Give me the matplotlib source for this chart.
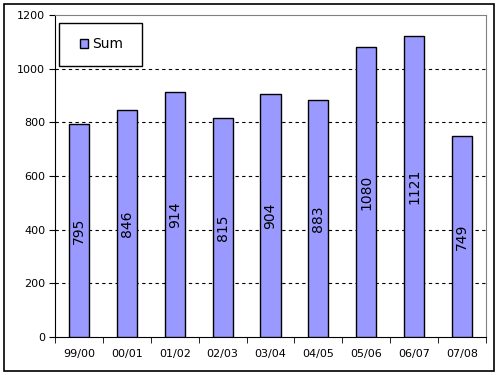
import matplotlib
matplotlib.use("Agg")
import matplotlib.pyplot as plt
from matplotlib.patches import Rectangle
import numpy as np

categories = ["99/00", "00/01", "01/02", "02/03", "03/04", "04/05", "05/06", "06/07", "07/08"]
values = [795, 846, 914, 815, 904, 883, 1080, 1121, 749]
yticks = [0, 200, 400, 600, 800, 1000, 1200]

W, H = 500, 375
fig = plt.figure(figsize=(5, 3.75), dpi=100)
fig.patches.append(Rectangle((4/W, 4/H), 490/W, 367/H, transform=fig.transFigure,
                             fill=False, edgecolor="black", linewidth=1.2))
ax = fig.add_axes([55/W, 38/H, 431/W, 322/H])

x = np.arange(len(categories))
ax.bar(x, values, width=0.42, color="#9999FF", edgecolor="black", linewidth=1.0, zorder=3,
       label="Sum")
for xi, v in zip(x, values):
    ax.text(xi, v / 2, str(v), rotation=90, ha="center", va="center", fontsize=10, zorder=4)

ax.set_xlim(-0.5, len(categories) - 0.5)
ax.set_ylim(0, 1200)
ax.set_yticks(yticks)
ax.set_yticklabels([str(t) for t in yticks], fontsize=8)
ax.set_xticks(x)
ax.set_xticklabels(categories, fontsize=8)
ax.set_xticks(np.arange(len(categories) + 1) - 0.5, minor=True)
ax.tick_params(axis="x", which="major", length=0, pad=9)
ax.tick_params(axis="x", which="minor", length=4, direction="out")
ax.tick_params(axis="y", length=4, direction="out", pad=3)
for t in yticks[1:-1]:
    ax.axhline(t, color="black", linestyle=(0, (3, 3)), linewidth=0.8, zorder=1)

ax.spines["left"].set_color("black")
ax.spines["bottom"].set_color("black")
ax.spines["top"].set_color("#808080")
ax.spines["right"].set_color("#808080")

# legend frame (Excel style) and legend
frame = Rectangle((59/W, (H - 66)/H), 83/W, 43/H, transform=fig.transFigure,
                  facecolor="white", edgecolor="black", linewidth=1.0, zorder=4.5)
ax.add_patch(frame)
leg = ax.legend(loc="center left", bbox_to_anchor=(80/W, (H - 44)/H),
                bbox_transform=fig.transFigure, fontsize=10, frameon=False,
                handlelength=0.6, handleheight=0.6, handletextpad=0.3,
                borderpad=0, borderaxespad=0)
leg.set_zorder(5)

fig.savefig("out.png", dpi=100)
